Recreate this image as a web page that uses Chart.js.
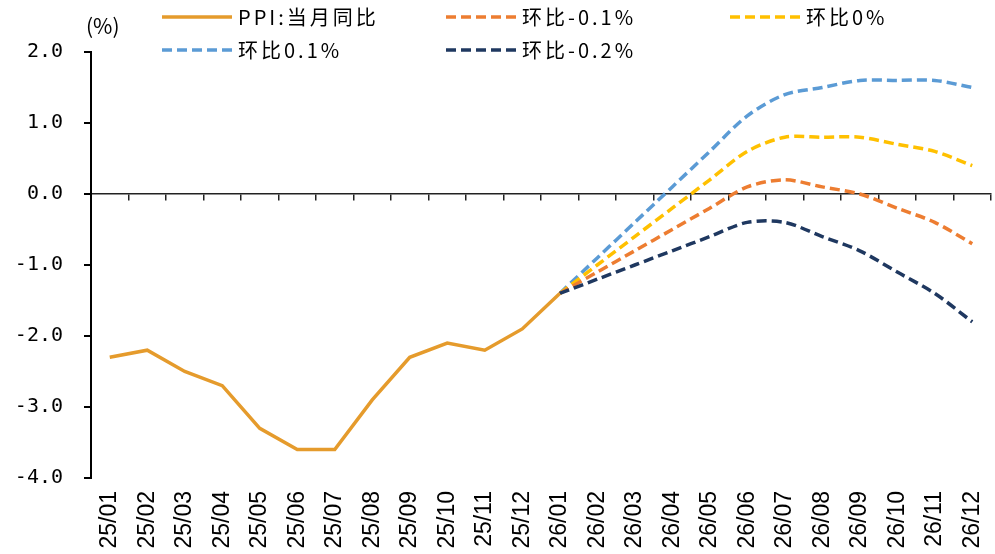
<!DOCTYPE html>
<html>
<head>
<meta charset="utf-8">
<script src="https://cdn.jsdelivr.net/npm/chart.js@4.4.1/dist/chart.umd.min.js"></script>
<style>
  html, body { margin: 0; padding: 0; background: #fff; }
  #wrap { position: relative; width: 995px; height: 554px; }
  #unit {
    position: absolute; left: 86px; top: 10px;
    font: 21px "Noto Sans CJK SC", sans-serif; color: #000;
  }
  #legend {
    position: absolute; left: 162px; top: 0;
    display: grid; grid-template-columns: 284px 284px 284px; grid-auto-rows: 33px;
  }
  .item { display: flex; align-items: center; }
  .item svg { margin-right: 6px; }
  .item span {
    font: 20px "Noto Sans CJK SC", sans-serif; letter-spacing: 3px; color: #000;
    line-height: 33px;
  }
</style>
</head>
<body>
<div id="wrap">
  <canvas id="chart"></canvas>
  <div id="unit">(%)</div>
  <div id="legend"></div>
</div>
<script>
const months = [
  "25/01", "25/02", "25/03", "25/04", "25/05", "25/06", "25/07", "25/08",
  "25/09", "25/10", "25/11", "25/12", "26/01", "26/02", "26/03", "26/04",
  "26/05", "26/06", "26/07", "26/08", "26/09", "26/10", "26/11", "26/12"
]

// PPI 当月同比, actual
const ppiYoy = [-2.3, -2.2, -2.5, -2.7, -3.3, -3.6, -3.6, -2.9, -2.3, -2.1, -2.2, -1.9, -1.4,
  null, null, null, null, null, null, null, null, null, null, null]

// scenarios by month-on-month change
const momMinus01 = [null, null, null, null, null, null, null, null, null, null, null, null,
  -1.4, -1.1, -0.8, -0.5, -0.2, 0.1, 0.2, 0.1, 0.0, -0.2, -0.4, -0.7]
const momZero = [null, null, null, null, null, null, null, null, null, null, null, null,
  -1.4, -1.0, -0.6, -0.2, 0.2, 0.6, 0.8, 0.8, 0.8, 0.7, 0.6, 0.4]
const momPlus01 = [null, null, null, null, null, null, null, null, null, null, null, null,
  -1.4, -0.9, -0.4, 0.1, 0.6, 1.1, 1.4, 1.5, 1.6, 1.6, 1.6, 1.5]
const momMinus02 = [null, null, null, null, null, null, null, null, null, null, null, null,
  -1.4, -1.2, -1.0, -0.8, -0.6, -0.4, -0.4, -0.6, -0.8, -1.1, -1.4, -1.8]

const yTicks = [2, 1, 0, -1, -2, -3, -4]

const dash = [10, 5]

const series = [
  { label: "PPI:当月同比", data: ppiYoy,     color: "#E59B2C", dashed: false, order: 0 },
  { label: "环比-0.1%",    data: momMinus01, color: "#ED7D31", dashed: true,  order: 2 },
  { label: "环比0%",       data: momZero,    color: "#FFC000", dashed: true,  order: 3 },
  { label: "环比0.1%",     data: momPlus01,  color: "#5B9BD5", dashed: true,  order: 4 },
  { label: "环比-0.2%",    data: momMinus02, color: "#1F3860", dashed: true,  order: 1 }
]

const tickFont = { family: "'DejaVu Sans Mono', monospace", size: 20 }
const catFont  = { family: "'Liberation Sans', Arial, sans-serif", size: 23 }

const chart = new Chart(document.getElementById("chart"), {
  type: "line",
  data: {
    labels: months,
    datasets: series.map(s => ({
      label: s.label,
      data: s.data,
      borderColor: s.color,
      backgroundColor: s.color,
      borderWidth: 3.5,
      borderDash: s.dashed ? dash : [],
      tension: s.dashed ? 0.3 : 0,
      pointRadius: 0,
      pointHoverRadius: 0,
      spanGaps: false,
      order: s.order
    }))
  },
  options: {
    responsive: true,
    maintainAspectRatio: false,
    animation: false,
    layout: { padding: { top: 52, right: 4, bottom: 0, left: 0 } },
    plugins: {
      legend: { display: false },
      tooltip: { enabled: false }
    },
    scales: {
      x: {
        type: "category",
        position: "bottom",
        offset: true,
        grid: { display: false, drawTicks: false },
        border: { display: false },
        ticks: {
          color: "#000",
          font: catFont,
          minRotation: 90,
          maxRotation: 90,
          autoSkip: false,
          padding: 13
        },
        afterFit: s => { s.height = 76; s.paddingLeft = 0; s.paddingRight = 0 }
      },
      x0: {
        axis: "x",
        type: "category",
        position: { y: 0 },
        offset: true,
        grid: {
          display: true,
          offset: true,
          drawOnChartArea: false,
          drawTicks: true,
          tickLength: 6,
          color: "#222",
          lineWidth: 1.5
        },
        border: { display: true, color: "#222", width: 1.5 },
        ticks: { display: false },
        afterFit: s => { s.height = 0; s.paddingLeft = 0; s.paddingRight = 0 }
      },
      y: {
        min: -4,
        max: 2,
        afterBuildTicks: s => { s.ticks = yTicks.map(v => ({ value: v })) },
        grid: {
          display: true,
          drawOnChartArea: false,
          drawTicks: true,
          tickLength: 7,
          color: "#000",
          lineWidth: 2
        },
        border: { display: true, color: "#000", width: 2 },
        ticks: {
          color: "#000",
          font: tickFont,
          padding: 21,
          callback: v => Number(v).toFixed(1)
        },
        afterFit: s => { s.width = 91; s.paddingTop = 0; s.paddingBottom = 0 }
      }
    }
  }
})

// legend laid out in fixed columns, built from the datasets
const legendEl = document.getElementById("legend")
chart.data.datasets.forEach(ds => {
  const item = document.createElement("div")
  item.className = "item"
  const dashAttr = ds.borderDash.length ? ` stroke-dasharray="${ds.borderDash.join(" ")}"` : ""
  item.innerHTML =
    `<svg width="70" height="8"><line x1="0" y1="4" x2="70" y2="4" stroke="${ds.borderColor}" stroke-width="3.5"${dashAttr}/></svg>` +
    `<span>${ds.label}</span>`
  legendEl.appendChild(item)
})
</script>
</body>
</html>
